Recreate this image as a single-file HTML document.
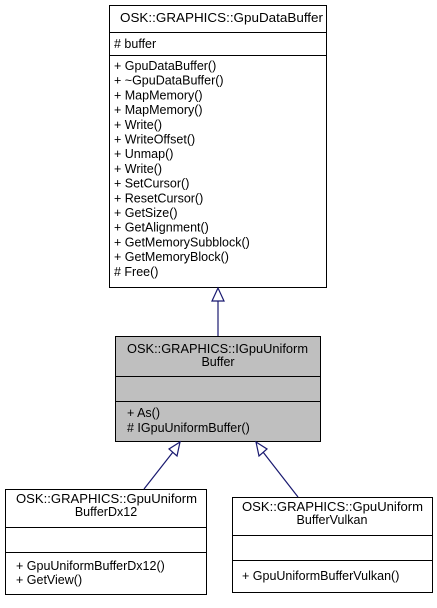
<!DOCTYPE html>
<html><head><style>body{margin:0;background:#fff}</style></head><body>
<svg width="437" height="603" xmlns="http://www.w3.org/2000/svg" font-family="Liberation Sans, Arial, sans-serif" font-size="12.5" fill="#000">
<rect x="0" y="0" width="437" height="603" fill="#fff"/>
<!-- top box -->
<rect x="109.5" y="5.5" width="217" height="282" fill="#fff" stroke="#000"/>
<line x1="109.5" y1="32.5" x2="326.5" y2="32.5" stroke="#000"/>
<line x1="109.5" y1="55.5" x2="326.5" y2="55.5" stroke="#000"/>
<text x="120" y="22" textLength="203" lengthAdjust="spacingAndGlyphs">OSK::GRAPHICS::GpuDataBuffer</text>
<text x="114" y="48"># buffer</text>
<g>
<text x="114" y="70">+ GpuDataBuffer()</text>
<text x="114" y="84.7">+ ~GpuDataBuffer()</text>
<text x="114" y="99.4">+ MapMemory()</text>
<text x="114" y="114.1">+ MapMemory()</text>
<text x="114" y="128.8">+ Write()</text>
<text x="114" y="143.5">+ WriteOffset()</text>
<text x="114" y="158.2">+ Unmap()</text>
<text x="114" y="172.9">+ Write()</text>
<text x="114" y="187.6">+ SetCursor()</text>
<text x="114" y="202.3">+ ResetCursor()</text>
<text x="114" y="217">+ GetSize()</text>
<text x="114" y="231.7">+ GetAlignment()</text>
<text x="114" y="246.4">+ GetMemorySubblock()</text>
<text x="114" y="261.1">+ GetMemoryBlock()</text>
<text x="114" y="275.8"># Free()</text>
</g>
<!-- middle box -->
<rect x="115.5" y="336.5" width="205" height="105" fill="#bfbfbf" stroke="#000"/>
<line x1="115.5" y1="376.5" x2="320.5" y2="376.5" stroke="#000"/>
<line x1="115.5" y1="401.5" x2="320.5" y2="401.5" stroke="#000"/>
<text x="127" y="353" textLength="181" lengthAdjust="spacingAndGlyphs">OSK::GRAPHICS::IGpuUniform</text>
<text x="218" y="366" text-anchor="middle">Buffer</text>
<text x="127" y="417">+ As()</text>
<text x="127" y="432"># IGpuUniformBuffer()</text>
<!-- bottom left -->
<rect x="5.5" y="489.5" width="201" height="105" fill="#fff" stroke="#000"/>
<line x1="5.5" y1="527.5" x2="206.5" y2="527.5" stroke="#000"/>
<line x1="5.5" y1="552.5" x2="206.5" y2="552.5" stroke="#000"/>
<text x="16" y="503" textLength="181" lengthAdjust="spacingAndGlyphs">OSK::GRAPHICS::GpuUniform</text>
<text x="106" y="516" text-anchor="middle">BufferDx12</text>
<text x="16" y="570">+ GpuUniformBufferDx12()</text>
<text x="16" y="584">+ GetView()</text>
<!-- bottom right -->
<rect x="232.5" y="497.5" width="200" height="95" fill="#fff" stroke="#000"/>
<line x1="232.5" y1="535.5" x2="432.5" y2="535.5" stroke="#000"/>
<line x1="232.5" y1="560.5" x2="432.5" y2="560.5" stroke="#000"/>
<text x="242" y="511" textLength="181" lengthAdjust="spacingAndGlyphs">OSK::GRAPHICS::GpuUniform</text>
<text x="332" y="524" text-anchor="middle">BufferVulkan</text>
<text x="242" y="580">+ GpuUniformBufferVulkan()</text>
<!-- connectors -->
<g stroke="#191970" stroke-width="1.2" fill="#fff">
<line x1="218" y1="336" x2="218" y2="301"/>
<polygon points="218,288 212,301 224,301"/>
<line x1="144" y1="489" x2="173" y2="452"/>
<polygon points="180,442 169,449 177,456"/>
<line x1="298" y1="497" x2="263" y2="452"/>
<polygon points="256,442 259,456 267,449"/>
</g>
</svg>
</body></html>
